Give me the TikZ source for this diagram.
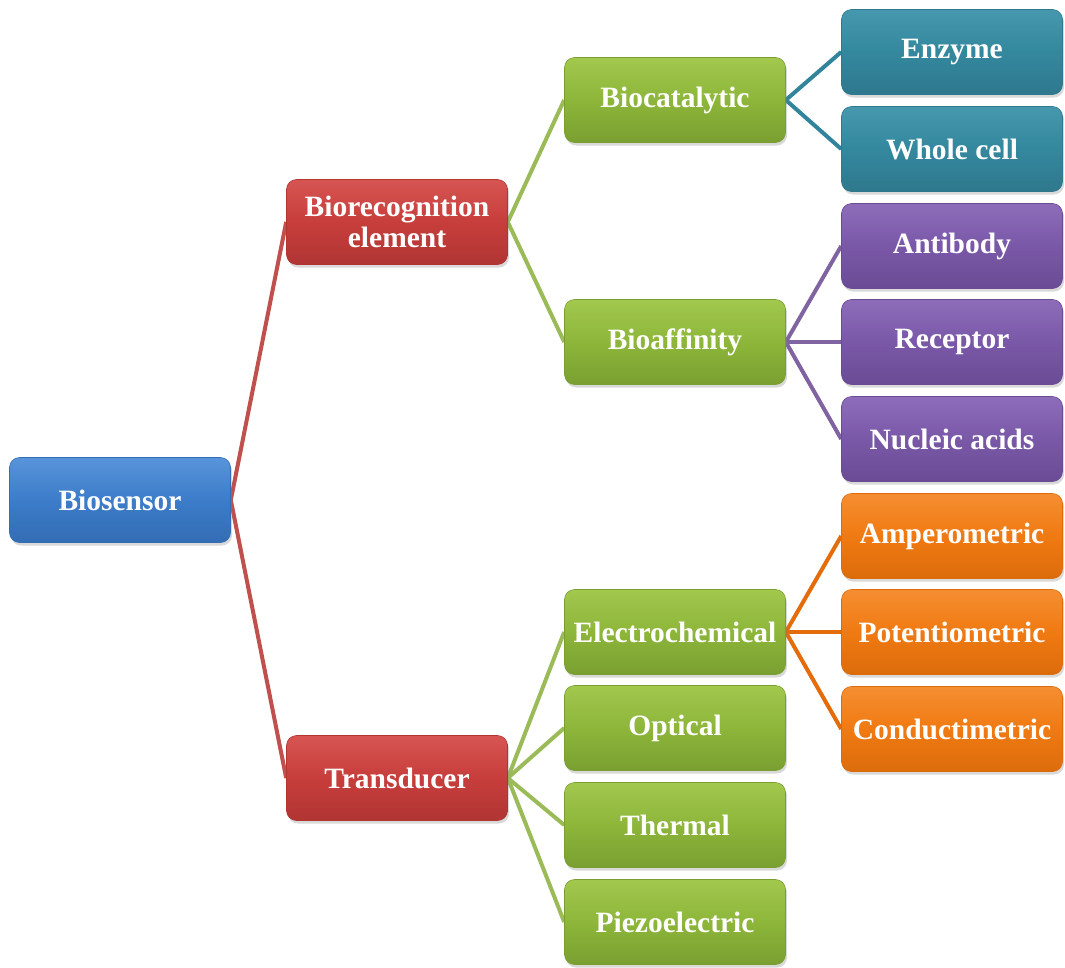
\documentclass[tikz,border=0pt]{standalone}
\usepackage{fontspec}
\setmainfont{Liberation Serif}
\usetikzlibrary{shadows,backgrounds}
\definecolor{bluem}{HTML}{3C7CC9}\definecolor{bluet}{HTML}{5894DA}\definecolor{blueb}{HTML}{336DB4}
\definecolor{redm}{HTML}{C73E3C}\definecolor{redt}{HTML}{D65552}\definecolor{redb}{HTML}{B03533}
\definecolor{grnm}{HTML}{8DB63A}\definecolor{grnt}{HTML}{A2C84E}\definecolor{grnb}{HTML}{7A9F31}
\definecolor{team}{HTML}{34889E}\definecolor{teat}{HTML}{4598AE}\definecolor{teab}{HTML}{2E788D}
\definecolor{purm}{HTML}{7A58A8}\definecolor{purt}{HTML}{8D6DBA}\definecolor{purb}{HTML}{6A4B94}
\definecolor{orgm}{HTML}{F07A12}\definecolor{orgt}{HTML}{F58E32}\definecolor{orgb}{HTML}{DC6C0B}
\definecolor{lred}{HTML}{C0504D}\definecolor{lgrn}{HTML}{9BBB59}\definecolor{ltea}{HTML}{31849B}
\definecolor{lpur}{HTML}{8064A2}\definecolor{lorg}{HTML}{E46C0A}
\tikzset{
  box/.style={rounded corners=10pt, minimum width=221pt, minimum height=85pt,
    text=white, font=\bfseries\fontsize{29.5}{31}\selectfont, align=center, inner sep=0pt,
    drop shadow={opacity=0.3, shadow xshift=1.5pt, shadow yshift=-3pt}},
  bluebox/.style={box, draw=blueb, line width=0.6pt, top color=bluet, bottom color=blueb, middle color=bluem},
  redbox/.style={box, draw=redb, line width=0.6pt, top color=redt, bottom color=redb, middle color=redm},
  grnbox/.style={box, draw=grnb, line width=0.6pt, top color=grnt, bottom color=grnb, middle color=grnm},
  teabox/.style={box, draw=teab, line width=0.6pt, top color=teat, bottom color=teab, middle color=team},
  purbox/.style={box, draw=purb, line width=0.6pt, top color=purt, bottom color=purb, middle color=purm},
  orgbox/.style={box, draw=orgb, line width=0.6pt, top color=orgt, bottom color=orgb, middle color=orgm},
  conn/.style={line width=4pt}
}
\begin{document}
\begin{tikzpicture}[x=1pt,y=-1pt]
\useasboundingbox (0,0) rectangle (1065,967);
\node[bluebox] (bios) at (120,500) {Biosensor};
\node[redbox] (bio) at (397,222) {Biorecognition\\element};
\node[redbox] (trans) at (397,778) {Transducer};
\node[grnbox] (cat) at (675,100) {Biocatalytic};
\node[grnbox] (aff) at (675,342) {Bioaffinity};
\node[grnbox] (elec) at (675,632) {Electrochemical};
\node[grnbox] (opt) at (675,728) {Optical};
\node[grnbox] (therm) at (675,825) {Thermal};
\node[grnbox] (piezo) at (675,922) {Piezoelectric};
\node[teabox] (enz) at (952,52) {Enzyme};
\node[teabox] (whole) at (952,149) {Whole cell};
\node[purbox] (anti) at (952,246) {Antibody};
\node[purbox] (rec) at (952,342) {Receptor};
\node[purbox] (nuc) at (952,439) {Nucleic acids};
\node[orgbox] (amp) at (952,536) {Amperometric};
\node[orgbox] (pot) at (952,632) {Potentiometric};
\node[orgbox] (cond) at (952,729) {Conductimetric};
\begin{scope}[on background layer]
\draw[conn, lred] (bio.west) -- (bios.east) -- (trans.west);
\draw[conn, lgrn] (cat.west) -- (bio.east) -- (aff.west);
\foreach \n in {elec,opt,therm,piezo} \draw[conn, lgrn] (trans.east) -- (\n.west);
\draw[conn, ltea] (enz.west) -- (cat.east) -- (whole.west);
\foreach \n in {anti,rec,nuc} \draw[conn, lpur] (aff.east) -- (\n.west);
\foreach \n in {amp,pot,cond} \draw[conn, lorg] (elec.east) -- (\n.west);
\end{scope}
\end{tikzpicture}
\end{document}
